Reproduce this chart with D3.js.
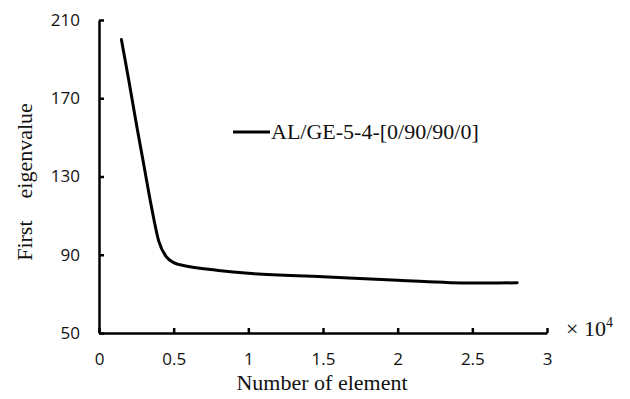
<!DOCTYPE html>
<html>
<head>
<meta charset="UTF-8">
<script src="https://cdn.jsdelivr.net/npm/d3@7"></script>
<style>
  body { margin: 0; background: #fff; }
  text.tick-label { font-family: "Open Sans", sans-serif; font-size: 17px; fill: #111; }
  text.title { font-family: "Liberation Serif", "Times New Roman", serif; font-size: 22px; fill: #111; white-space: pre; }
</style>
</head>
<body>
<div id="chart"></div>
<script>
// element count (x 10^4) and first eigenvalue
const elements = [0.15, 0.2, 0.25, 0.3, 0.35, 0.4, 0.45, 0.5, 0.6, 0.8, 1.0, 1.5, 2.0, 2.5, 2.6, 2.8];
const eigen    = [200, 179, 157, 136, 115, 97, 89, 86, 84, 82, 80.5, 78.8, 77, 75.5, 75.5, 75.7];
const xTicks = [0, 0.5, 1, 1.5, 2, 2.5, 3];
const yTicks = [50, 90, 130, 170, 210];
const seriesName = "AL/GE-5-4-[0/90/90/0]";

const W = 630, H = 399;
const svg = d3.select("#chart").append("svg").attr("width", W).attr("height", H);

const x = d3.scaleLinear().domain([0, 3]).range([99, 547]);
const y = d3.scaleLinear().domain([50, 210]).range([333, 20]);

// axes, ticks pointing inward
const xAxis = svg.append("g").attr("transform", "translate(0," + y(50) + ")")
  .call(d3.axisBottom(x).tickValues(xTicks).tickSizeInner(-5).tickSizeOuter(0).tickFormat(d3.format("")));
const yAxis = svg.append("g").attr("transform", "translate(" + x(0) + ",0)")
  .call(d3.axisLeft(y).tickValues(yTicks).tickSizeInner(-5).tickSizeOuter(0));

[xAxis, yAxis].forEach(a => {
  a.select(".domain").attr("stroke", "#000").attr("stroke-width", 2.5);
  a.selectAll(".tick line").attr("stroke", "#000").attr("stroke-width", 2.5);
  a.selectAll(".tick text").attr("class", "tick-label").attr("fill", "#111");
});
xAxis.selectAll(".tick text").attr("y", 20);
yAxis.selectAll(".tick text").attr("x", -19);

const data = elements.map((e, i) => ({ x: e, y: eigen[i] }));
const line = d3.line().x(d => x(d.x)).y(d => y(d.y)).curve(d3.curveMonotoneX);
svg.append("path").datum(data)
  .attr("d", line)
  .attr("fill", "none").attr("stroke", "#000").attr("stroke-width", 3)
  .attr("stroke-linecap", "round");

// legend
svg.append("line").attr("x1", 233).attr("x2", 270).attr("y1", 132).attr("y2", 132)
  .attr("stroke", "#000").attr("stroke-width", 3);
svg.append("text").attr("class", "title").attr("x", 271).attr("y", 139).text(seriesName);

// titles
svg.append("text").attr("class", "title")
  .attr("transform", "translate(32,182) rotate(-90)")
  .attr("text-anchor", "middle").text("First    eigenvalue");
svg.append("text").attr("class", "title")
  .attr("x", 322).attr("y", 390).attr("text-anchor", "middle").text("Number of element");

const mult = svg.append("text").attr("class", "title").attr("x", 566).attr("y", 336);
mult.append("tspan").text("\u00d7 10");
mult.append("tspan").attr("dy", -9).attr("font-size", 14).text("4");
</script>
</body>
</html>
